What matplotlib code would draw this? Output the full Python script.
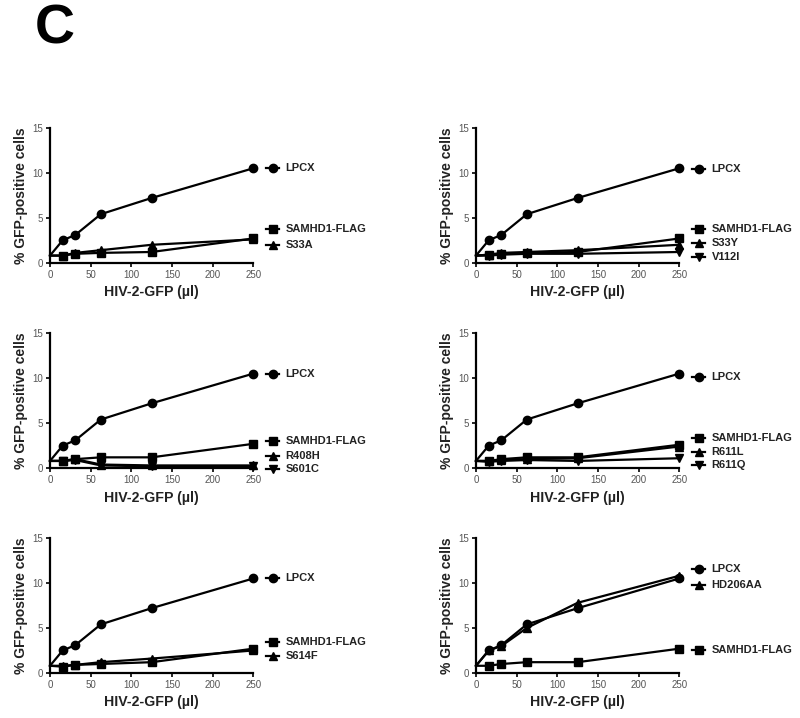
import numpy as np
import matplotlib.pyplot as plt

plt.rcParams['font.family'] = ['Liberation Sans', 'DejaVu Sans']

# virus dose (ul)
dose = [0, 15.6, 31.25, 62.5, 125, 250]

lpcx = [0.8, 2.5, 3.1, 5.4, 7.2, 10.5]

# per-panel series: (label, marker, values)
panel_s33a = [
    ("LPCX", "o", lpcx),
    ("SAMHD1-FLAG", "s", [0.8, 0.8, 1.0, 1.1, 1.2, 2.7]),
    ("S33A", "^", [0.8, 0.8, 1.1, 1.4, 2.0, 2.6]),
]
panel_s33y = [
    ("LPCX", "o", lpcx),
    ("SAMHD1-FLAG", "s", [0.8, 0.9, 1.0, 1.1, 1.2, 2.7]),
    ("S33Y", "^", [0.8, 0.9, 1.1, 1.2, 1.4, 2.0]),
    ("V112I", "v", [0.8, 0.8, 0.9, 1.0, 1.0, 1.2]),
]
panel_r408 = [
    ("LPCX", "o", lpcx),
    ("SAMHD1-FLAG", "s", [0.8, 0.8, 1.0, 1.2, 1.2, 2.7]),
    ("R408H", "^", [0.8, 0.8, 1.0, 0.4, 0.3, 0.3]),
    ("S601C", "v", [0.8, 0.8, 0.9, 0.3, 0.2, 0.2]),
]
panel_r611 = [
    ("LPCX", "o", lpcx),
    ("SAMHD1-FLAG", "s", [0.8, 0.8, 1.0, 1.2, 1.2, 2.6]),
    ("R611L", "^", [0.8, 0.8, 0.9, 1.0, 1.1, 2.4]),
    ("R611Q", "v", [0.8, 0.7, 0.8, 0.9, 0.8, 1.1]),
]
panel_s614 = [
    ("LPCX", "o", lpcx),
    ("SAMHD1-FLAG", "s", [0.8, 0.7, 0.9, 1.0, 1.2, 2.7]),
    ("S614F", "^", [0.8, 0.8, 0.9, 1.2, 1.6, 2.5]),
]
panel_hd = [
    ("LPCX", "o", lpcx),
    ("HD206AA", "^", [0.8, 2.5, 3.0, 5.0, 7.8, 10.8]),
    ("SAMHD1-FLAG", "s", [0.8, 0.8, 1.0, 1.2, 1.2, 2.7]),
]

# y positions of the right-hand labels (data units)
label_y = [
    [10.5, 3.8, 2.0],
    [10.4, 3.8, 2.2, 0.6],
    [10.5, 3.0, 1.4, -0.1],
    [10.1, 3.3, 1.8, 0.3],
    [10.5, 3.4, 1.9],
    [11.5, 9.8, 2.6],
]

panels = [panel_s33a, panel_s33y, panel_r408, panel_r611, panel_s614, panel_hd]

fig = plt.figure(figsize=(8, 7.18), dpi=100)

lefts = [0.0625, 0.595]
bottoms = [0.634, 0.348, 0.0627]
w, h = 0.254, 0.188

for k, series in enumerate(panels):
    row, col = divmod(k, 2)
    ax = fig.add_axes([lefts[col], bottoms[row], w, h])
    for (name, mk, vals), ly in zip(series, label_y[k]):
        ax.plot(dose, vals, color="black", lw=1.6, marker=mk, ms=6,
                markevery=range(1, len(dose)), clip_on=False, zorder=3)
        # legend-style symbol and name to the right of the plot
        ax.plot([266, 282], [ly, ly], color="black", lw=1.6, clip_on=False)
        ax.plot([274], [ly], color="black", marker=mk, ms=6, clip_on=False)
        ax.text(290, ly, name, fontsize=8, fontweight="bold", va="center",
                ha="left", color="#222222", clip_on=False)
    ax.set_xlim(0, 250)
    ax.set_ylim(0, 15)
    ax.set_xticks([0, 50, 100, 150, 200, 250])
    ax.set_yticks([0, 5, 10, 15])
    ax.spines["top"].set_visible(False)
    ax.spines["right"].set_visible(False)
    for sp in ("left", "bottom"):
        ax.spines[sp].set_linewidth(1.6)
    ax.tick_params(direction="out", length=3, width=1.2, labelsize=7,
                   labelcolor="#555555", pad=2)
    ax.set_xlabel("HIV-2-GFP (µl)", fontsize=10.2, fontweight="bold",
                  color="#222222", labelpad=4)
    ax.set_ylabel("% GFP-positive cells", fontsize=10, fontweight="bold",
                  color="#222222", labelpad=3)

fig.text(0.043, 0.94, "C", fontsize=40, fontweight="bold", va="baseline", ha="left")

fig.savefig("out.png", dpi=100)
